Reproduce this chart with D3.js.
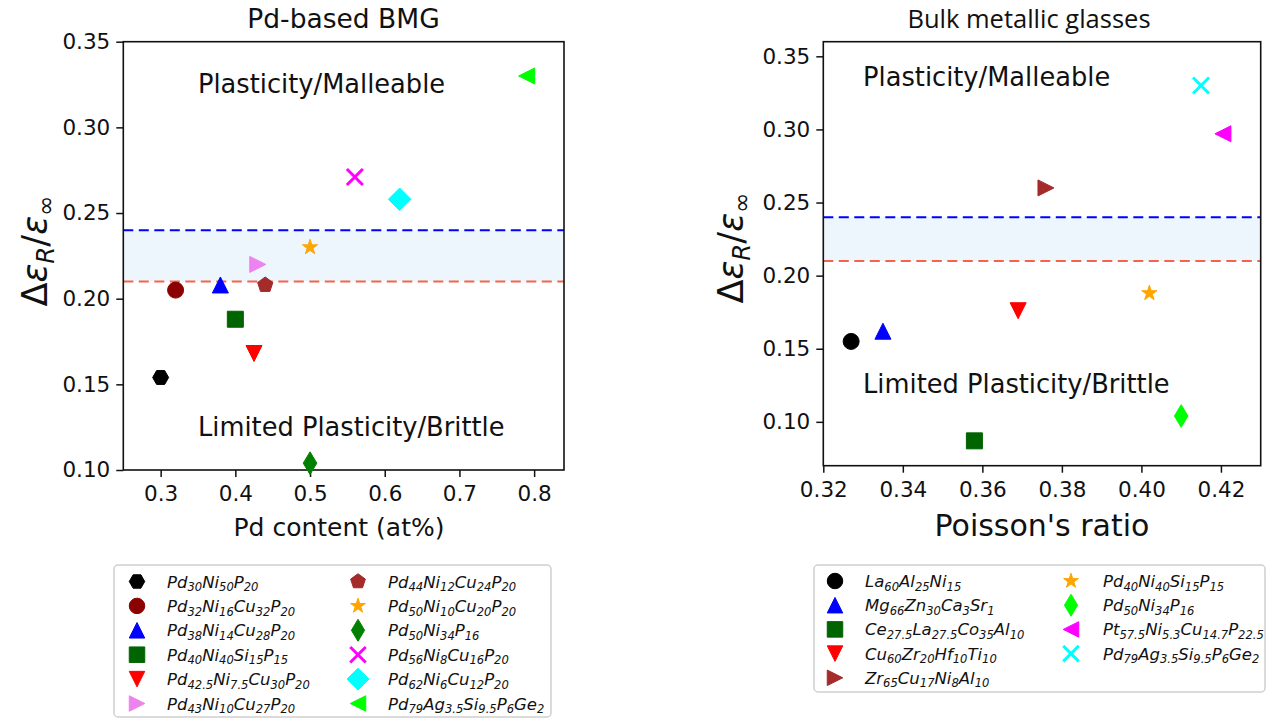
<!DOCTYPE html>
<html>
<head>
<meta charset="utf-8">
<script src="https://cdn.jsdelivr.net/npm/d3@7/dist/d3.min.js"></script>
<style>
  html, body { margin: 0; padding: 0; background: #fff; }
  svg { display: block; }
</style>
</head>
<body>
<svg id="chart" width="1266" height="719"></svg>
<script>
// ---------------- DATA ----------------
const leftX = [0.30, 0.32, 0.38, 0.40, 0.425, 0.43, 0.44, 0.50, 0.50, 0.56, 0.62, 0.79];
const leftY = [0.154, 0.205, 0.208, 0.188, 0.168, 0.220, 0.208, 0.230, 0.104, 0.271, 0.258, 0.330];
const leftLabels = ["Pd30Ni50P20", "Pd32Ni16Cu32P20", "Pd38Ni14Cu28P20", "Pd40Ni40Si15P15",
  "Pd42.5Ni7.5Cu30P20", "Pd43Ni10Cu27P20", "Pd44Ni12Cu24P20", "Pd50Ni10Cu20P20",
  "Pd50Ni34P16", "Pd56Ni8Cu16P20", "Pd62Ni6Cu12P20", "Pd79Ag3.5Si9.5P6Ge2"];
const leftMarkers = ["H", "o", "^", "s", "v", ">", "p", "*", "d", "x", "D", "<"];
const leftColors = ["#000000", "#8b0000", "#0000ff", "#006400", "#ff0000", "#ee82ee",
  "#a52a2a", "#ffa500", "#008000", "#ff00ff", "#00ffff", "#00ff00"];
const leftXTicks = [0.3, 0.4, 0.5, 0.6, 0.7, 0.8];
const leftYTicks = [0.10, 0.15, 0.20, 0.25, 0.30, 0.35];

const rightX = [0.327, 0.335, 0.358, 0.369, 0.376, 0.402, 0.410, 0.4205, 0.415];
const rightY = [0.155, 0.162, 0.087, 0.176, 0.260, 0.188, 0.104, 0.297, 0.330];
const rightLabels = ["La60Al25Ni15", "Mg66Zn30Ca3Sr1", "Ce27.5La27.5Co35Al10", "Cu60Zr20Hf10Ti10",
  "Zr65Cu17Ni8Al10", "Pd40Ni40Si15P15", "Pd50Ni34P16", "Pt57.5Ni5.3Cu14.7P22.5", "Pd79Ag3.5Si9.5P6Ge2"];
const rightMarkers = ["o", "^", "s", "v", ">", "*", "d", "<", "x"];
const rightColors = ["#000000", "#0000ff", "#006400", "#ff0000", "#a52a2a", "#ffa500",
  "#00ff00", "#ff00ff", "#00ffff"];
const rightXTicks = [0.32, 0.34, 0.36, 0.38, 0.40, 0.42];
const rightYTicks = [0.10, 0.15, 0.20, 0.25, 0.30, 0.35];

const bandLow = 0.21, bandHigh = 0.24;

// ---------------- HELPERS ----------------
const svg = d3.select("#chart");
const TICKFONT = "'DejaVu Sans', sans-serif";

function markerPath(m, ms) {
  const r = ms / 2;
  const poly = pts => "M" + pts.map(p => p[0].toFixed(2) + "," + p[1].toFixed(2)).join("L") + "Z";
  switch (m) {
    case "o": return `M${r},0A${r},${r} 0 1,1 ${-r},0A${r},${r} 0 1,1 ${r},0Z`;
    case "s": return poly([[-r, -r], [r, -r], [r, r], [-r, r]]);
    case "^": return poly([[0, -r], [-r, r], [r, r]]);
    case "v": return poly([[0, r], [-r, -r], [r, -r]]);
    case ">": return poly([[r, 0], [-r, -r], [-r, r]]);
    case "<": return poly([[-r, 0], [r, -r], [r, r]]);
    case "H": return poly(d3.range(6).map(k => [r * Math.cos(k * Math.PI / 3), r * Math.sin(k * Math.PI / 3)]));
    case "p": return poly(d3.range(5).map(k => {
      const a = -Math.PI / 2 + k * 2 * Math.PI / 5; return [r * Math.cos(a), r * Math.sin(a)]; }));
    case "*": return poly(d3.range(10).map(k => {
      const a = -Math.PI / 2 + k * Math.PI / 5; const rr = k % 2 ? r * 0.381966 : r;
      return [rr * Math.cos(a), rr * Math.sin(a)]; }));
    case "D": { const q = r * Math.SQRT2; return poly([[0, -q], [q, 0], [0, q], [-q, 0]]); }
    case "d": { const q = r * Math.SQRT2; return poly([[0, -q], [0.6 * q, 0], [0, q], [-0.6 * q, 0]]); }
    case "x": return `M${-r},${-r}L${r},${r}M${-r},${r}L${r},${-r}`;
  }
}

function drawMarker(g, m, color, x, y, ms) {
  const p = g.append("path").attr("d", markerPath(m, ms))
    .attr("transform", `translate(${x},${y})`);
  if (m === "x") p.attr("fill", "none").attr("stroke", color).attr("stroke-width", 3);
  else p.attr("fill", color).attr("stroke", color).attr("stroke-width", 1).attr("stroke-linejoin", "miter");
}

// chemical formula with subscripts, built from tspans (dy offsets carried to next tspan)
function formulaText(sel, label, size) {
  const re = /([A-Z][a-z]?)([\d.]+)?/g;
  const drop = size * 0.22;
  let m, pending = 0;
  while ((m = re.exec(label)) !== null) {
    sel.append("tspan").attr("font-size", size).attr("dy", pending).text(m[1]);
    pending = 0;
    if (m[2]) {
      sel.append("tspan").attr("font-size", size * 0.7).attr("dy", drop).text(m[2]);
      pending = -drop;
    }
  }
}

function panel(cfg) {
  const x = d3.scaleLinear().domain(cfg.xDomain).range([cfg.left, cfg.right]);
  const y = d3.scaleLinear().domain(cfg.yDomain).range([cfg.bottom, cfg.top]);
  const g = svg.append("g");

  // band
  g.append("rect")
    .attr("x", cfg.left).attr("width", cfg.right - cfg.left)
    .attr("y", y(bandHigh)).attr("height", y(bandLow) - y(bandHigh))
    .attr("fill", "#eef6fd");
  g.append("line").attr("x1", cfg.left).attr("x2", cfg.right)
    .attr("y1", y(bandHigh)).attr("y2", y(bandHigh))
    .attr("stroke", "#0000ff").attr("stroke-width", 2).attr("stroke-dasharray", "10,5.5");
  g.append("line").attr("x1", cfg.left).attr("x2", cfg.right)
    .attr("y1", y(bandLow)).attr("y2", y(bandLow))
    .attr("stroke", "#f8624d").attr("stroke-width", 2).attr("stroke-dasharray", "10,5.5");

  // axes
  const xAxis = d3.axisBottom(x).tickValues(cfg.xTicks).tickFormat(cfg.xFmt).tickSize(7).tickPadding(6);
  const yAxis = d3.axisLeft(y).tickValues(cfg.yTicks).tickFormat(d3.format(".2f")).tickSize(7).tickPadding(6);
  const gx = g.append("g").attr("transform", `translate(0,${cfg.bottom})`).call(xAxis);
  const gy = g.append("g").attr("transform", `translate(${cfg.left},0)`).call(yAxis);
  [gx, gy].forEach(a => {
    a.select(".domain").remove();
    a.selectAll(".tick line").attr("stroke", "#111").attr("stroke-width", 1.5);
    a.selectAll(".tick text").attr("font-family", TICKFONT).attr("font-size", 21.5).attr("fill", "#111");
  });
  gx.selectAll(".tick text").attr("dy", "0.85em");
  // frame
  g.append("rect").attr("x", cfg.left).attr("y", cfg.top)
    .attr("width", cfg.right - cfg.left).attr("height", cfg.bottom - cfg.top)
    .attr("fill", "none").attr("stroke", "#111").attr("stroke-width", 1.6);

  // region texts
  g.append("text").attr("x", x(cfg.txtX)).attr("y", y(cfg.txtTop))
    .attr("font-family", TICKFONT).attr("font-size", 25.7).attr("fill", "#111")
    .text("Plasticity/Malleable");
  g.append("text").attr("x", x(cfg.txtX)).attr("y", y(cfg.txtBot))
    .attr("font-family", TICKFONT).attr("font-size", 25.7).attr("fill", "#111")
    .text("Limited Plasticity/Brittle");

  // points
  const pts = g.append("g");
  cfg.xs.forEach((v, i) => drawMarker(pts, cfg.markers[i], cfg.colors[i], x(v), y(cfg.ys[i]), 16));

  // title
  g.append("text").attr("x", cfg.titleX).attr("y", 28).attr("text-anchor", "middle")
    .attr("font-family", cfg.titleFont).attr("font-size", cfg.titleSize).attr("fill", "#111")
    .text(cfg.title);
  // x label
  g.append("text").attr("x", cfg.xlabelX).attr("y", 536).attr("text-anchor", "middle")
    .attr("font-family", TICKFONT).attr("font-size", cfg.xlabelSize).attr("fill", "#111")
    .text(cfg.xlabel);
  // y label
  const cy = cfg.ylabelY;
  const yl = g.append("text").attr("transform", `translate(${cfg.ylabelX},${cy}) rotate(-90)`)
    .attr("text-anchor", "middle").attr("font-family", TICKFONT).attr("font-size", 35).attr("fill", "#111");
  yl.append("tspan").text("\u0394");
  yl.append("tspan").attr("font-style", "italic").text("\u03B5");
  yl.append("tspan").attr("font-style", "italic").attr("font-size", 24.5).attr("dy", 7).text("R");
  yl.append("tspan").attr("dy", -7).text("/");
  yl.append("tspan").attr("font-style", "italic").text("\u03B5");
  yl.append("tspan").attr("font-size", 24.5).attr("dy", 7).text("\u221E");

  // legend
  const L = cfg.legend;
  const lg = svg.append("g");
  lg.append("rect").attr("x", L.x0).attr("y", L.y0).attr("width", L.x1 - L.x0).attr("height", L.y1 - L.y0)
    .attr("rx", 4).attr("fill", "#fff").attr("stroke", "#d0d0d0").attr("stroke-width", 1.5);
  cfg.labels.forEach((lab, i) => {
    const col = i < L.perCol ? 0 : 1;
    const row = i < L.perCol ? i : i - L.perCol;
    const yy = L.rowY0 + row * L.rowStep;
    drawMarker(lg, cfg.markers[i], cfg.colors[i], L.mx[col], yy, 15.5);
    const t = lg.append("text").attr("x", L.tx[col]).attr("y", yy + 6)
      .attr("font-family", TICKFONT).attr("font-style", "italic").attr("fill", "#111");
    formulaText(t, lab, 16.5);
  });
}

panel({
  left: 123.3, right: 564, top: 41.7, bottom: 470,
  xDomain: [0.25, 0.84], yDomain: [0.10, 0.35],
  xTicks: leftXTicks, yTicks: leftYTicks, xFmt: d3.format(".1f"),
  xs: leftX, ys: leftY, markers: leftMarkers, colors: leftColors, labels: leftLabels,
  txtX: 0.35, txtTop: 0.32, txtBot: 0.12,
  title: "Pd-based BMG", titleX: 343.5, titleFont: "'DejaVu Sans', sans-serif", titleSize: 26.5,
  xlabel: "Pd content (at%)", xlabelX: 339, xlabelSize: 25,
  ylabelX: 47, ylabelY: 251,
  legend: { x0: 114, y0: 565, x1: 551, y1: 717, perCol: 6, rowY0: 581.5, rowStep: 24.4,
    mx: [137, 358], tx: [167, 388] }
});

panel({
  left: 823.3, right: 1260.7, top: 41.7, bottom: 465.7,
  xDomain: [0.32, 0.43], yDomain: [0.07, 0.36],
  xTicks: rightXTicks, yTicks: rightYTicks, xFmt: d3.format(".2f"),
  xs: rightX, ys: rightY, markers: rightMarkers, colors: rightColors, labels: rightLabels,
  txtX: 0.33, txtTop: 0.33, txtBot: 0.12,
  title: "Bulk metallic glasses", titleX: 1029, titleFont: "'Open Sans', sans-serif", titleSize: 25.5,
  xlabel: "Poisson's ratio", xlabelX: 1042, xlabelSize: 30,
  ylabelX: 743, ylabelY: 248,
  legend: { x0: 814, y0: 565, x1: 1265, y1: 692, perCol: 5, rowY0: 581, rowStep: 24.2,
    mx: [835, 1071], tx: [865, 1103] }
});
</script>
</body>
</html>
